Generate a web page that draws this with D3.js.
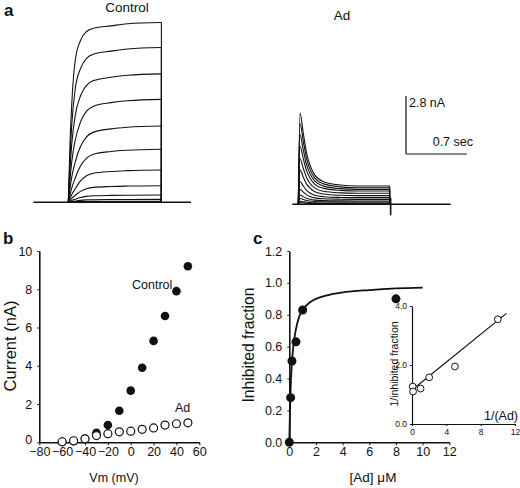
<!DOCTYPE html>
<html><head><meta charset="utf-8">
<script src="https://cdn.jsdelivr.net/npm/d3@7"></script>
<style>
body{margin:0;background:#fff;}
svg{display:block;font-family:"Liberation Sans",Arial,Helvetica,sans-serif;}
</style></head><body>
<svg id="chart" width="520" height="488"></svg>
<script>
// ---------- Panel a : current traces ----------
const stepVoltages   = [-60,-50,-40,-30,-20,-10,0,10,20,30,40,50];
const ctrlTraceAmp   = [0.02,0.05,0.14,0.35,0.8,1.56,2.56,3.68,4.97,6.2,7.47,8.68]; // nA, end of pulse
const ctrlFastWeight = [0,0,0,0,0,0,0.1,0.3,0.5,0.7,0.85,1];
const ctrlTime       = [0,0.02,0.04,0.08,0.14,0.21,0.29,0.49,0.68,1.07];            // s
const ctrlShapeFast  = [0,0.33,0.55,0.79,0.90,0.95,0.968,0.981,0.993,1.0];
const ctrlShapeSlow  = [0,0.12,0.24,0.42,0.66,0.82,0.90,0.955,0.98,1.0];
const ctrlWindow     = [-0.4,1.07,1.41];   // start of record, pulse end, end of record (s)

const adTracePeak    = [0.08,0.15,0.28,0.45,0.72,1.1,1.65,2.2,2.8,3.35,3.9,4.4];   // nA
const adTraceSteady  = [0.03,0.06,0.11,0.16,0.24,0.32,0.42,0.53,0.64,0.72,0.8,0.88];
const adTime         = [0,0.02,0.057,0.096,0.134,0.19,0.29,0.48,0.68,1.05];
const adDecay        = [0,1,0.725,0.45,0.29,0.15,0.06,0.014,0,0]; // first sample = onset
const adWindow       = [-0.07,1.05,1.75];
const adTail         = [0.3,-0.53];
const scaleBarNA = 2.8, scaleBarSec = 0.7;

// ---------- Panel b : I-V ----------
const ivVoltage = [-60,-50,-40,-30,-20,-10,0,10,20,30,40,50];
const ivControl = [0.02,0.06,0.18,0.5,0.9,1.65,2.7,3.9,5.3,6.6,7.9,9.2];
const ivAd      = [0.03,0.08,0.18,0.35,0.45,0.55,0.58,0.68,0.75,0.9,0.97,1.02];
const ivXTicks = [-80,-60,-40,-20,0,20,40,60];
const ivYTicks = [0,2,4,6,8,10];

// ---------- Panel c : dose response ----------
const adConc     = [0,0.1,0.2,0.5,1,8];
const inhibFrac  = [0,0.28,0.51,0.63,0.83,0.9];
const inhibErr   = [0,0.01,0.03,0.02,0.01,0.02];
const fitConc    = [0,0.05,0.1,0.2,0.3,0.5,0.75,1,1.5,2,3,4,6,8,10];
const fitFrac    = [0,0.2,0.34,0.5,0.6,0.71,0.79,0.83,0.875,0.9,0.925,0.94,0.955,0.965,0.97];
const doseXTicks = [0,2,4,6,8,10,12];
const doseYTicks = [0,0.2,0.4,0.6,0.8,1.0,1.2];
// inset : double reciprocal
const invConc  = [0.08,0.125,1,2,5,10];
const invFrac  = [1.27,1.1,1.2,1.58,1.95,3.55];
const invErr   = [0.04,0.04,0.04,0.06,0.12,0.1];
const lbLineX  = [0,11];
const lbLineY  = [1.15,3.75];
const insetXTicks = [0,4,8,12];
const insetYTicks = [0,2,4];

const svg = d3.select("#chart");
const ink = "#111";

// ===== Panel a =====
const nAtoPx = d3.scaleLinear().domain([0,scaleBarNA]).range([0,58]);
const ctrlX = d3.scaleLinear().domain([0,1]).range([68.3,68.3+87]);
const ctrlY = d3.scaleLinear().domain([0,1]).range([202.3,202.3-nAtoPx(1)]);
const adX = d3.scaleLinear().domain([0,1]).range([298.3,298.3+87]);
const adY = d3.scaleLinear().domain([0,1]).range([204.3,204.3-nAtoPx(1)]);

const gA = svg.append("g");
const smooth = d3.line().curve(d3.curveMonotoneX);
const straight = d3.line();

stepVoltages.forEach((v,i)=>{
  const w = ctrlFastWeight[i], amp = ctrlTraceAmp[i];
  const pts = ctrlTime.map((t,k)=>[ctrlX(t), ctrlY(amp*(w*ctrlShapeFast[k]+(1-w)*ctrlShapeSlow[k]))]);
  gA.append("path").attr("d", smooth(pts)).attr("fill","none").attr("stroke",ink).attr("stroke-width",1.1);
  gA.append("path").attr("d", straight([[ctrlX(ctrlWindow[1]),ctrlY(amp)],[ctrlX(ctrlWindow[1]),ctrlY(0)]]))
    .attr("stroke",ink).attr("stroke-width",1.1);
});
gA.append("path").attr("d", straight([[ctrlX(ctrlWindow[0]),ctrlY(0)],[ctrlX(ctrlWindow[2]),ctrlY(0)]]))
  .attr("stroke",ink).attr("stroke-width",1.6);

stepVoltages.forEach((v,i)=>{
  const pk = adTracePeak[i], ss = adTraceSteady[i];
  const pts = adTime.map((t,k)=>[adX(t), adY(k===0?0:ss+(pk-ss)*adDecay[k])]);
  gA.append("path").attr("d", smooth(pts)).attr("fill","none").attr("stroke",ink).attr("stroke-width",1.1);
  gA.append("path").attr("d", straight([[adX(adWindow[1]),adY(ss)],[adX(adWindow[1]),adY(0)]]))
    .attr("stroke",ink).attr("stroke-width",1.1);
});
gA.append("path").attr("d", straight([[adX(adWindow[0]),adY(0)],[adX(adWindow[2]),adY(0)]]))
  .attr("stroke",ink).attr("stroke-width",1.6);
gA.append("path").attr("d", straight([[adX(adWindow[1])+1,adY(adTail[0])],[adX(adWindow[1])+1,adY(adTail[1])]]))
  .attr("stroke",ink).attr("stroke-width",1.6);

// scale bars
const sbX0 = 406, sbY1 = 154;
const secToPx = d3.scaleLinear().domain([0,1]).range([0,87]);
gA.append("line").attr("x1",sbX0).attr("x2",sbX0).attr("y1",sbY1).attr("y2",sbY1-nAtoPx(scaleBarNA)).attr("stroke",ink).attr("stroke-width",1.2);
gA.append("line").attr("x1",sbX0).attr("x2",sbX0+secToPx(scaleBarSec)).attr("y1",sbY1).attr("y2",sbY1).attr("stroke",ink).attr("stroke-width",1.2);
gA.append("text").attr("x",409).attr("y",107).attr("font-size",12.5).attr("fill",ink).text(scaleBarNA+" nA");
gA.append("text").attr("x",473).attr("y",146).attr("text-anchor","end").attr("font-size",12.5).attr("fill",ink).text(scaleBarSec+" sec");
gA.append("text").attr("x",127).attr("y",12).attr("text-anchor","middle").attr("font-size",13.5).attr("fill",ink).text("Control");
gA.append("text").attr("x",342).attr("y",20).attr("text-anchor","middle").attr("font-size",13.5).attr("fill",ink).text("Ad");

// panel letters
[["a",4,16],["b",3,244],["c",253,244]].forEach(([t,x,y])=>{
  svg.append("text").attr("x",x).attr("y",y).attr("font-size",17).attr("font-weight","bold").attr("fill",ink).text(t);
});

function styleAxis(g, fs){
  g.select(".domain").attr("stroke",ink).attr("stroke-width",1.6);
  g.selectAll(".tick line").attr("stroke",ink).attr("stroke-width",1);
  g.selectAll(".tick text").attr("font-size",fs).attr("fill",ink).attr("font-family",'"Liberation Sans",Arial,sans-serif');
}

// ===== Panel b =====
const bx = d3.scaleLinear().domain([-80,60]).range([39.3,199.3]);
const by = d3.scaleLinear().domain([0,10]).range([442.3,251]);
const gB = svg.append("g");
gB.append("g").attr("transform","translate(0,442.3)")
  .call(d3.axisBottom(bx).tickValues(ivXTicks).tickSize(3).tickPadding(1.5).tickSizeOuter(0))
  .call(g=>styleAxis(g,12.5));
const gBy = gB.append("g").attr("transform","translate(39.3,0)")
  .call(d3.axisLeft(by).tickValues(ivYTicks).tickSize(2).tickPadding(5).tickSizeOuter(0))
  .call(g=>styleAxis(g,12.5));
gBy.selectAll(".tick text").filter(d=>d===0).attr("dy","0.12em");
gB.selectAll(".ctl").data(ivVoltage).join("circle")
  .attr("cx",(d)=>bx(d)).attr("cy",(d,i)=>by(ivControl[i])).attr("r",4.3).attr("fill",ink);
gB.selectAll(".adp").data(ivVoltage).join("circle").attr("class","adp")
  .attr("cx",(d)=>bx(d)).attr("cy",(d,i)=>by(ivAd[i])).attr("r",4).attr("fill","#fff").attr("stroke",ink).attr("stroke-width",1.2);
gB.append("text").attr("x",132).attr("y",289).attr("font-size",12.5).attr("fill",ink).text("Control");
gB.append("text").attr("x",175).attr("y",412).attr("font-size",12.5).attr("fill",ink).text("Ad");
gB.append("text").attr("transform","translate(16,346) rotate(-90)").attr("text-anchor","middle")
  .attr("font-size",16.5).attr("fill",ink).text("Current (nA)");
gB.append("text").attr("x",114).attr("y",482).attr("text-anchor","middle").attr("font-size",12.5).attr("fill",ink).text("Vm (mV)");

// ===== Panel c =====
const cx = d3.scaleLinear().domain([0,12]).range([289.3,449.3]);
const cy = d3.scaleLinear().domain([0,1.2]).range([442.3,251]);
const gC = svg.append("g");
gC.append("g").attr("transform","translate(0,442.3)")
  .call(d3.axisBottom(cx).tickValues(doseXTicks).tickSize(3).tickPadding(1.5).tickSizeOuter(0))
  .call(g=>styleAxis(g,12.5));
gC.append("g").attr("transform","translate(289.3,0)")
  .call(d3.axisLeft(cy).tickValues(doseYTicks).tickFormat(d3.format(".1f")).tickSize(2).tickPadding(5).tickSizeOuter(0))
  .call(g=>styleAxis(g,12.5));
gC.append("path").attr("d", d3.line().curve(d3.curveMonotoneX).x((d,i)=>cx(d)).y((d,i)=>cy(fitFrac[i]))(fitConc))
  .attr("fill","none").attr("stroke",ink).attr("stroke-width",1.8);
adConc.forEach((c,i)=>{
  gC.append("line").attr("x1",cx(c)).attr("x2",cx(c)).attr("y1",cy(inhibFrac[i]-inhibErr[i])).attr("y2",cy(inhibFrac[i]+inhibErr[i])).attr("stroke","#777");
  gC.append("circle").attr("cx",cx(c)).attr("cy",cy(inhibFrac[i])).attr("r",4.5).attr("fill",ink);
});
gC.append("text").attr("transform","translate(254,345) rotate(-90)").attr("text-anchor","middle")
  .attr("font-size",15.7).attr("fill",ink).text("Inhibited fraction");
gC.append("text").attr("x",373).attr("y",482).attr("text-anchor","middle").attr("font-size",13.5).attr("fill",ink).text("[Ad] μM");

// inset
const ix = d3.scaleLinear().domain([0,12]).range([412,515]);
const iy = d3.scaleLinear().domain([0,4]).range([424,306]);
const gI = svg.append("g");
gI.append("g").attr("transform","translate(0,424)")
  .call(d3.axisBottom(ix).tickValues(insetXTicks).tickSize(2).tickPadding(3).tickSizeOuter(0))
  .call(g=>styleAxis(g,8.5));
gI.append("g").attr("transform","translate(412,0)")
  .call(d3.axisLeft(iy).tickValues(insetYTicks).tickSize(2).tickPadding(3).tickSizeOuter(0))
  .call(g=>styleAxis(g,8.5));
gI.selectAll(".domain").attr("stroke-width",1.2);
gI.append("path").attr("d", d3.line().x(d=>ix(d)).y((d,i)=>iy(lbLineY[i]))(lbLineX))
  .attr("fill","none").attr("stroke",ink).attr("stroke-width",1.2);
invConc.forEach((c,i)=>{
  gI.append("line").attr("x1",ix(c)).attr("x2",ix(c)).attr("y1",iy(invFrac[i]-invErr[i])).attr("y2",iy(invFrac[i]+invErr[i])).attr("stroke","#666");
  gI.append("circle").attr("cx",ix(c)).attr("cy",iy(invFrac[i])).attr("r",3.4).attr("fill","#fff").attr("stroke",ink).attr("stroke-width",1);
});
gI.append("text").attr("transform","translate(398,364) rotate(-90)").attr("text-anchor","middle")
  .attr("font-size",10.5).attr("fill",ink).text("1/inhibited fraction");
gI.append("text").attr("x",518).attr("y",420).attr("text-anchor","end").attr("font-size",12.5).attr("fill",ink).text("1/(Ad)");
</script>
</body></html>
